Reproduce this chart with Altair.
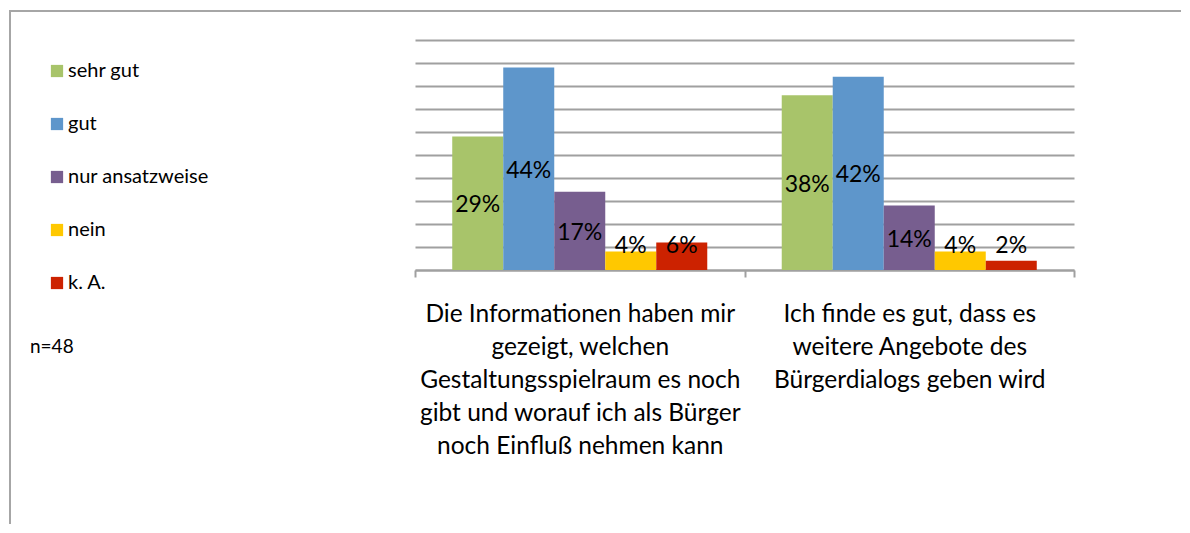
import altair as alt
import pandas as pd

categories = [
    "Die Informationen haben mir\ngezeigt, welchen\nGestaltungsspielraum es noch\ngibt und worauf ich als Bürger\nnoch Einfluß nehmen kann",
    "Ich finde es gut, dass es\nweitere Angebote des\nBürgerdialogs geben wird",
]
series = ["sehr gut", "gut", "nur ansatzweise", "nein", "k. A."]
values_q1 = [29, 44, 17, 4, 6]
values_q2 = [38, 42, 14, 4, 2]
colors = ["#A8C46A", "#5E96CB", "#775E8F", "#FFC800", "#CC2200"]
note = "n=48"

rows = []
for cat, vals in zip(categories, [values_q1, values_q2]):
    for i, (s, v) in enumerate(zip(series, vals)):
        rows.append({"cat": cat, "series": s, "order": i, "value": v})
df = pd.DataFrame(rows)

FONT = "Lato"

x_axis = alt.Axis(labelAngle=0, labelExpr="split(datum.label, '\\n')",
                  labelFontSize=24.5, labelLineHeight=33, labelPadding=25,
                  labelFont=FONT, labelColor="#000000",
                  domainColor="#A0A0A0", domainWidth=2,
                  tickColor="#A0A0A0", tickWidth=2, tickSize=7,
                  tickBand="extent", grid=False, labelLimit=400)
x_scale = alt.Scale(paddingInner=0, paddingOuter=0)
y_axis = alt.Axis(values=list(range(0, 55, 5)), labels=False, ticks=False,
                  domain=False, grid=True, gridColor="#A0A0A0", gridWidth=2)
y_scale = alt.Scale(domain=[0, 50], nice=False)
xo = alt.XOffset("series:N", sort=series,
                 scale=alt.Scale(paddingInner=0, paddingOuter=0.73))

bars = alt.Chart(df).mark_bar().encode(
    x=alt.X("cat:N", sort=categories, title=None, scale=x_scale, axis=x_axis),
    xOffset=xo,
    y=alt.Y("value:Q", title=None, scale=y_scale, axis=y_axis),
    color=alt.Color("series:N", sort=series,
                    scale=alt.Scale(domain=series, range=colors),
                    legend=alt.Legend(title=None, orient="none", legendX=-368, legendY=21,
                                      symbolType="square", symbolSize=150,
                                      symbolStrokeWidth=0, symbolOpacity=1,
                                      labelFontSize=20, labelFont=FONT,
                                      labelColor="#000000", rowPadding=33,
                                      labelOffset=1)),
)

labels = alt.Chart(df).transform_calculate(
    pos="max(datum.value / 2, 5.6)",
    label="datum.value + '%'",
).mark_text(fontSize=23, font=FONT, color="#000000", baseline="middle", dy=2).encode(
    x=alt.X("cat:N", sort=categories, title=None, scale=x_scale, axis=x_axis),
    xOffset=xo,
    y=alt.Y("pos:Q", title=None, scale=y_scale, axis=y_axis),
    text="label:N",
)

one = pd.DataFrame({"a": [0]})
frame_left = alt.Chart(one).mark_rule(color="#A6A6A6", strokeWidth=2).encode(
    x=alt.value(-405), y=alt.value(-29), y2=alt.value(520))
frame_top = alt.Chart(one).mark_rule(color="#A6A6A6", strokeWidth=2).encode(
    x=alt.value(-406), x2=alt.value(800), y=alt.value(-29))
note_text = alt.Chart(one).mark_text(align="left", baseline="middle", fontSize=19,
                                     font=FONT, color="#000000").encode(
    x=alt.value(-385), y=alt.value(307), text=alt.value(note))

chart = alt.layer(bars, labels, frame_left, frame_top, note_text).properties(
    width=659, height=230,
    background="white",
    autosize=alt.AutoSizeParams(type="none"),
    padding={"left": 407, "top": 32, "right": 107, "bottom": 254},
).configure_view(stroke=None)

chart.save("out.html", embed_options={"renderer": "svg", "actions": False})
